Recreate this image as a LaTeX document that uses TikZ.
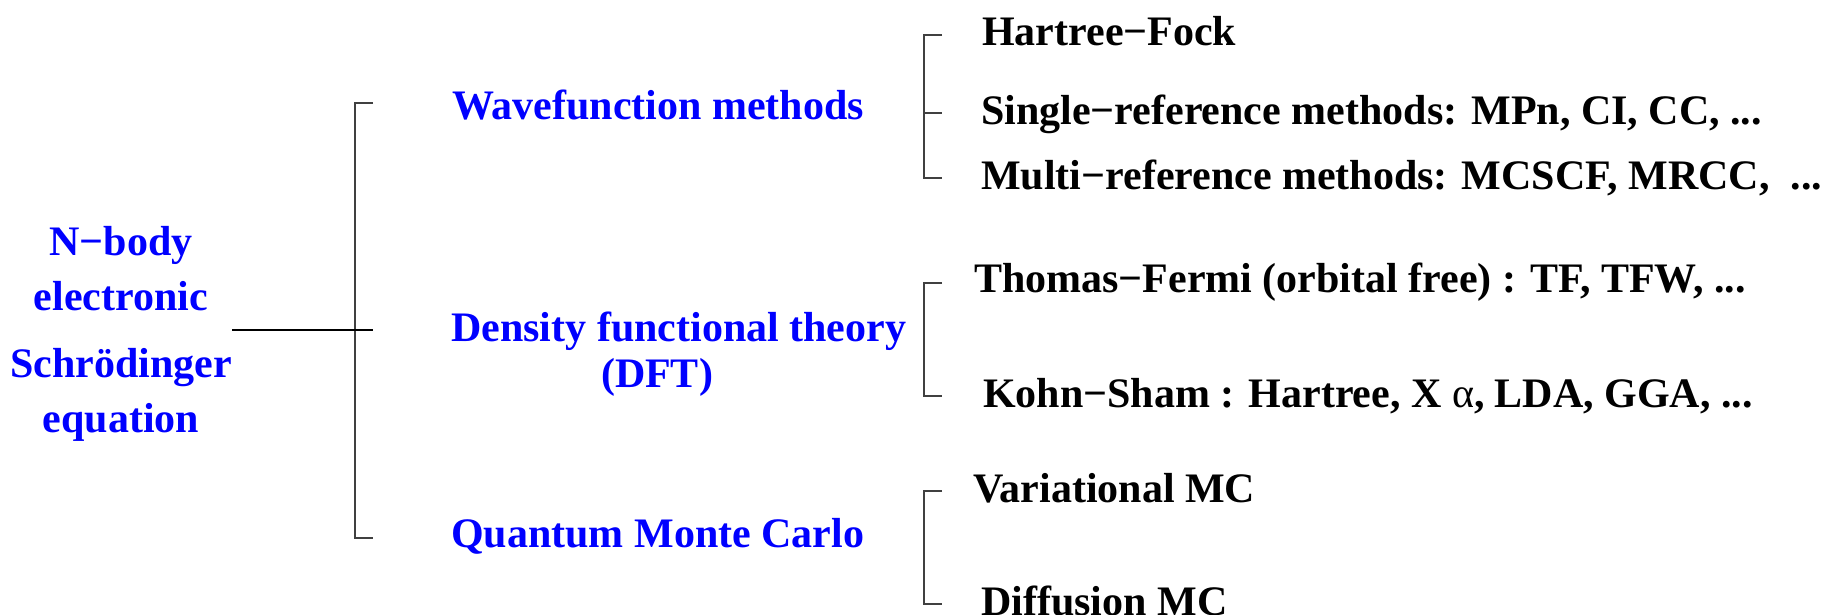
\documentclass[tikz,border=0pt]{standalone}
\usepackage{fontspec}
\setmainfont{Liberation Serif}
\usetikzlibrary{calc}
\begin{document}
\begin{tikzpicture}[x=1pt,y=-1pt,
  every node/.style={inner sep=0pt,font=\fontsize{42}{55}\selectfont\bfseries},
  family/.style={text=blue,anchor=base west},
  method/.style={anchor=base west},
  brace/.style={line width=1.4pt,black!75}]
  \useasboundingbox (0,0) rectangle (1831,614);
  % the equation on the left
  \node[text=blue,align=center,anchor=base] (eq) at (121,432)
    {N−body\\electronic\\[12pt]Schrödinger\\equation};
  % three families of methods
  \node[family] (wf) at (452,119) {Wavefunction methods};
  \node[family] (dft) at (451,341) {Density functional theory};
  \node[text=blue,anchor=base] (dftab) at (657,387) {(DFT)};
  \node[family] (qmc) at (451,547) {Quantum Monte Carlo};
  % wavefunction methods
  \node[method] (hf) at (982,45) {Hartree−Fock};
  \node[method] (sr) at (981,124) {Single−reference methods: MPn, CI, CC, ...};
  \node[method] (mr) at (981,189) {Multi−reference methods: MCSCF, MRCC,~ ...};
  % density functionals
  \node[method] (tf) at (974,292) {Thomas−Fermi (orbital free) : TF, TFW, ...};
  \node[method] (ks) at (983,407) {Kohn−Sham : Hartree, X {\mdseries α}, LDA, GGA, ...};
  % monte carlo
  \node[method] (vmc) at (973,502) {Variational MC};
  \node[method] (dmc) at (981,615) {Diffusion MC};
  % big bracket
  \coordinate (root) at (232,330);
  \coordinate (mj) at (355,330);
  \coordinate (mtop) at (355,103);
  \coordinate (mbot) at (355,538);
  \draw[brace] ($(mtop)+(18,0)$) -- (mtop) -- (mbot) -- ++(18,0);
  \draw[line width=1.4pt] (root) -- (mj) -- ++(18,0);
  % small brackets
  \coordinate (wtop) at (924,35);
  \coordinate (wmid) at (924,113);
  \coordinate (wbot) at (924,178);
  \draw[brace] ($(wtop)+(18,0)$) -- (wtop) -- (wbot) -- ++(18,0);
  \draw[brace] (wmid) -- ++(18,0);
  \coordinate (dtop) at (924,283);
  \coordinate (dbot) at (924,396);
  \draw[brace] ($(dtop)+(18,0)$) -- (dtop) -- (dbot) -- ++(18,0);
  \coordinate (qtop) at (924,491);
  \coordinate (qbot) at (924,604);
  \draw[brace] ($(qtop)+(18,0)$) -- (qtop) -- (qbot) -- ++(18,0);
\end{tikzpicture}
\end{document}
